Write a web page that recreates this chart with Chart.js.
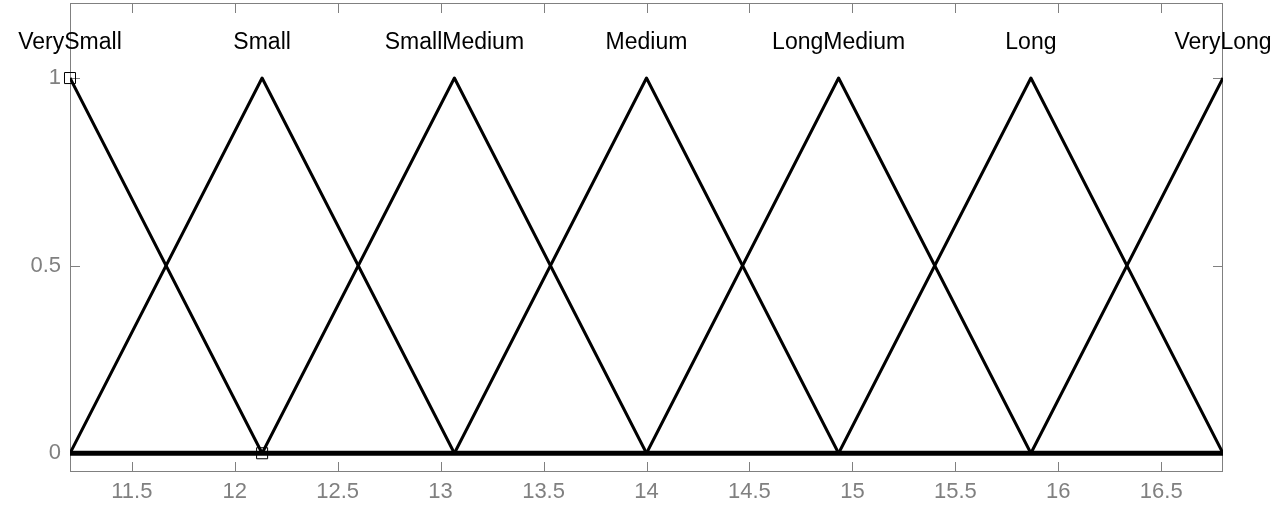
<!DOCTYPE html>
<html>
<head>
<meta charset="utf-8">
<script src="https://cdn.jsdelivr.net/npm/chart.js@4/dist/chart.umd.min.js"></script>
<style>
  html, body { margin: 0; padding: 0; background: #ffffff; }
  #wrap { width: 1280px; height: 506px; }
</style>
</head>
<body>
<div id="wrap"><canvas id="c" width="1280" height="506"></canvas></div>
<script>
// ---- data ----
const mfNames = ["VerySmall", "Small", "SmallMedium", "Medium", "LongMedium", "Long", "VeryLong"];
const mfPeaks = [11.2, 12.133, 13.067, 14.0, 14.933, 15.867, 16.8];
const xRange = [11.2, 16.8];
const yRange = [-0.05, 1.2];
const xTickValues = [11.5, 12, 12.5, 13, 13.5, 14, 14.5, 15, 15.5, 16, 16.5];
const yTickValues = [0, 0.5, 1];
const markerPoints = [{ x: 11.2, y: 1 }, { x: 12.133, y: 0 }];
const labelLevel = 1.093;

const FONT = '"Liberation Sans", Arial, Helvetica, sans-serif';
const GRAY = '#808080';

// build triangular membership function datasets
const mfDatasets = mfPeaks.map((p, i) => {
  const a = i > 0 ? mfPeaks[i - 1] : p;
  const c = i < mfPeaks.length - 1 ? mfPeaks[i + 1] : p;
  const pts = [];
  if (a > xRange[0]) pts.push({ x: xRange[0], y: 0 });
  if (a < p) pts.push({ x: a, y: 0 });
  pts.push({ x: p, y: 1 });
  if (c > p) pts.push({ x: c, y: 0 });
  if (c < xRange[1]) pts.push({ x: xRange[1], y: 0 });
  return {
    label: mfNames[i],
    data: pts,
    borderColor: '#000000',
    borderWidth: 3,
    pointRadius: 0,
    tension: 0,
    borderJoinStyle: 'round',
    showLine: true,
    fill: false
  };
});

const baselineDataset = {
  label: 'zero',
  data: [{ x: xRange[0], y: 0 }, { x: xRange[1], y: 0 }],
  borderColor: '#000000',
  borderWidth: 5,
  pointRadius: 0,
  showLine: true,
  fill: false
};

const markerDataset = {
  label: 'markers',
  data: markerPoints,
  showLine: false,
  pointStyle: 'rect',
  pointRadius: 7.8,
  pointBorderWidth: 1,
  pointBorderColor: '#000000',
  pointBackgroundColor: 'rgba(0,0,0,0)',
  clip: false
};

// frame, inward ticks and MF name labels
const matlabPlugin = {
  id: 'matlabPlugin',
  beforeDatasetsDraw(chart) {
    const { ctx, chartArea: a, scales } = chart;
    ctx.save();
    ctx.strokeStyle = GRAY;
    ctx.lineWidth = 1;
    ctx.strokeRect(Math.round(a.left) + 0.5, Math.round(a.top) + 0.5,
                   Math.round(a.right - a.left) - 1, Math.round(a.bottom - a.top) - 1);
    const L = 10;
    ctx.beginPath();
    xTickValues.forEach(v => {
      const px = Math.round(scales.x.getPixelForValue(v)) + 0.5;
      ctx.moveTo(px, a.bottom); ctx.lineTo(px, a.bottom - L);
      ctx.moveTo(px, a.top); ctx.lineTo(px, a.top + L);
    });
    yTickValues.forEach(v => {
      const py = Math.round(scales.y.getPixelForValue(v)) + 0.5;
      ctx.moveTo(a.left, py); ctx.lineTo(a.left + L, py);
      ctx.moveTo(a.right, py); ctx.lineTo(a.right - L, py);
    });
    ctx.stroke();
    ctx.restore();
  },
  afterDatasetsDraw(chart) {
    const { ctx, scales } = chart;
    ctx.save();
    ctx.fillStyle = '#000000';
    ctx.font = '23px ' + FONT;
    ctx.textAlign = 'center';
    ctx.textBaseline = 'middle';
    mfNames.forEach((n, i) => {
      ctx.fillText(n, scales.x.getPixelForValue(mfPeaks[i]), scales.y.getPixelForValue(labelLevel));
    });
    ctx.restore();
  }
};

new Chart(document.getElementById('c'), {
  type: 'scatter',
  data: { datasets: [baselineDataset, ...mfDatasets, markerDataset] },
  options: {
    responsive: false,
    animation: false,
    devicePixelRatio: 1,
    layout: { autoPadding: false, padding: { top: 3, right: 57, left: 0, bottom: 0 } },
    plugins: { legend: { display: false }, tooltip: { enabled: false } },
    scales: {
      x: {
        type: 'linear',
        min: xRange[0],
        max: xRange[1],
        grid: { display: false, drawTicks: false },
        border: { display: false },
        afterBuildTicks: s => { s.ticks = xTickValues.map(v => ({ value: v })); },
        afterFit: s => { s.height = 34; s.paddingLeft = 0; s.paddingRight = 0; },
        ticks: {
          color: GRAY,
          font: { family: FONT, size: 22 },
          padding: 7,
          maxRotation: 0,
          autoSkip: false,
          callback: v => String(v)
        }
      },
      y: {
        type: 'linear',
        min: yRange[0],
        max: yRange[1],
        grid: { display: false, drawTicks: false },
        border: { display: false },
        afterBuildTicks: s => { s.ticks = yTickValues.map(v => ({ value: v })); },
        afterFit: s => { s.width = 70; s.paddingTop = 0; s.paddingBottom = 0; },
        ticks: {
          color: GRAY,
          font: { family: FONT, size: 22 },
          padding: 9,
          autoSkip: false,
          callback: v => String(v)
        }
      }
    }
  },
  plugins: [matlabPlugin]
});
</script>
</body>
</html>
